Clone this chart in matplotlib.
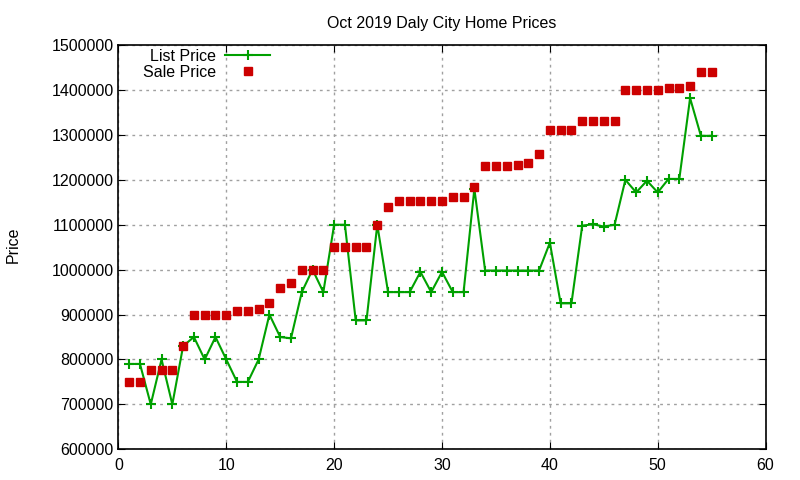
import matplotlib
matplotlib.use("Agg")
import matplotlib.pyplot as plt

plt.rcParams["font.family"] = ["Liberation Sans", "DejaVu Sans"]

days = list(range(1, 56))

list_price = [
    790000, 790000, 700000, 800000, 700000, 830000, 850000, 800000, 850000, 800000,
    750000, 750000, 800000, 900000, 850000, 847000, 950000, 1000000, 950000, 1100000,
    1100000, 887000, 887000, 1100000, 950000, 950000, 950000, 995000, 950000, 995000,
    950000, 950000, 1180000, 998000, 998000, 998000, 998000, 998000, 998000, 1060000,
    925000, 925000, 1098000, 1101000, 1096000, 1100000, 1200000, 1172000, 1198000, 1172000,
    1202000, 1202000, 1382000, 1298000, 1298000,
]

sale_price = [
    750000, 750000, 776000, 776000, 776000, 830000, 900000, 900000, 900000, 900000,
    909000, 909000, 913000, 925000, 960000, 970000, 1000000, 1000000, 1000000, 1050000,
    1050000, 1050000, 1050000, 1100000, 1140000, 1152000, 1152000, 1152000, 1152000, 1152000,
    1161000, 1161000, 1184000, 1230000, 1230000, 1230000, 1232000, 1237000, 1257000, 1310000,
    1312000, 1312000, 1332000, 1332000, 1332000, 1332000, 1400000, 1400000, 1400000, 1400000,
    1405000, 1405000, 1409000, 1440000, 1440000,
]

fig = plt.figure(figsize=(8, 4.8), dpi=100)
ax = fig.add_axes([0.148, 0.064, 0.809, 0.842])

ax.plot(days, list_price, color="#00a000", linewidth=1.5, marker="+",
        markersize=7, markeredgewidth=1.5, label="List Price", zorder=2)
ax.plot(days, sale_price, linestyle="none", marker="s", color="#cc0000",
        markersize=6, label="Sale Price", zorder=3)

ax.set_xlim(0, 60)
ax.set_ylim(600000, 1500000)
ax.set_xticks(range(0, 61, 10))
ax.set_yticks(range(600000, 1500001, 100000))
ax.ticklabel_format(style="plain", axis="y", useOffset=False)
ax.tick_params(direction="in", top=True, right=True, labelsize=11.5, length=5)
ax.tick_params(axis="x", pad=6)
ax.grid(True, color="#a0a0a0", linestyle=(0, (2, 3)), linewidth=1)
for s in ax.spines.values():
    s.set_linewidth(1.2)

ax.set_title("Oct 2019 Daly City Home Prices", fontsize=11.5, pad=12)
fig.text(0.017, 0.49, "Price", rotation=90, fontsize=11.5, va="center", ha="center")

ax.legend(loc="upper left", bbox_to_anchor=(0.02, 1.018), frameon=False,
          markerfirst=False, fontsize=11.5, handlelength=2.8,
          labelspacing=0.05, handletextpad=0.6, borderpad=0.2)

fig.savefig("out.png", dpi=100)
